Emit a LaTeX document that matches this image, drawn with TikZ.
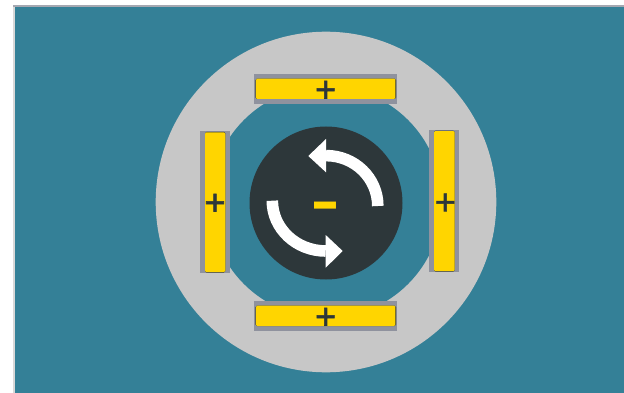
\documentclass[tikz,border=0pt]{standalone}
\usepackage{fontspec}
\setmainfont{Liberation Sans}
\newfontfamily\plusfont[FakeBold=1.6]{Liberation Sans}
\definecolor{teal}{HTML}{348097}
\definecolor{ring}{HTML}{C7C7C7}
\definecolor{frame}{HTML}{8F929E}
\definecolor{gold}{HTML}{FFD500}
\definecolor{ink}{HTML}{2D373A}
\tikzset{
  framebar/.style={fill=frame,draw=none},
  edgebar/.style={fill=ink,draw=none,rounded corners=1.5pt},
  goldbar/.style={fill=gold,draw=none},
  plussign/.style={inner sep=0pt,text=ink,font=\plusfont\fontsize{36}{36}\selectfont},
  shaft/.style={draw=white,line width=11.6pt,line cap=butt},
  head/.style={fill=white,draw=none}
}
\begin{document}
\begin{tikzpicture}[x=1pt,y=-1pt]
\useasboundingbox (0,0) rectangle (624,393);
\fill[white] (0,0) rectangle (624,393);
\fill[ring!70!white] (13.4,5) rectangle (15,393);
\fill[frame!80!white] (13.4,5) rectangle (624,7);
\fill[teal] (15,7) rectangle (624,393);
% rings
\fill[ring] (326,202) circle[radius=170.3];
\fill[teal] (326,202) circle[radius=116];
\fill[ink] (326,203) circle[radius=76.5];
% top bar
\fill[framebar] (254,74) rectangle (396.7,104);
\fill[edgebar] (255.4,78.7) rectangle (396,99);
\fill[goldbar,rounded corners=1.2pt] (255.9,78.7) rectangle (395.4,99);
\node[plussign] (plustop) at (325.7,91.3) {+};
% bottom bar
\fill[framebar] (254,301) rectangle (396.7,331);
\fill[edgebar] (255.4,305.7) rectangle (396,326);
\fill[goldbar,rounded corners=1.2pt] (255.9,305.7) rectangle (395.4,326);
\node[plussign] (plusbottom) at (325.7,318.3) {+};
% left bar
\fill[framebar] (200,131) rectangle (230,272.7);
\fill[edgebar] (205,131.8) rectangle (225.3,272.6);
\fill[goldbar,rounded corners=1.2pt] (205,132.4) rectangle (225.3,272);
\node[plussign] (plusleft) at (215,204.3) {+};
% right bar
\fill[framebar] (429.3,130) rectangle (459.3,271.7);
\fill[edgebar] (434,130.6) rectangle (454.7,271.6);
\fill[goldbar,rounded corners=1.2pt] (434,131.2) rectangle (454.7,271);
\node[plussign] (plusright) at (445.3,204) {+};
% arrows
\draw[shaft] (377.8,206) .. controls (377.8,178.1) and (354.7,155.6) .. (326,155.6);
\fill[head] (308.3,156) -- (326,139) -- (326,172.3) -- cycle;
\draw[shaft] (272.3,200.7) .. controls (272.3,228.5) and (296.2,251) .. (325.7,251);
\fill[head] (342.7,251) -- (325.7,235) -- (325.7,267.7) -- cycle;
% minus
\node[inner sep=0pt,text=gold,font=\fontsize{90}{90}\selectfont] (minus) at (325.7,215.4) {-};
\end{tikzpicture}
\end{document}
